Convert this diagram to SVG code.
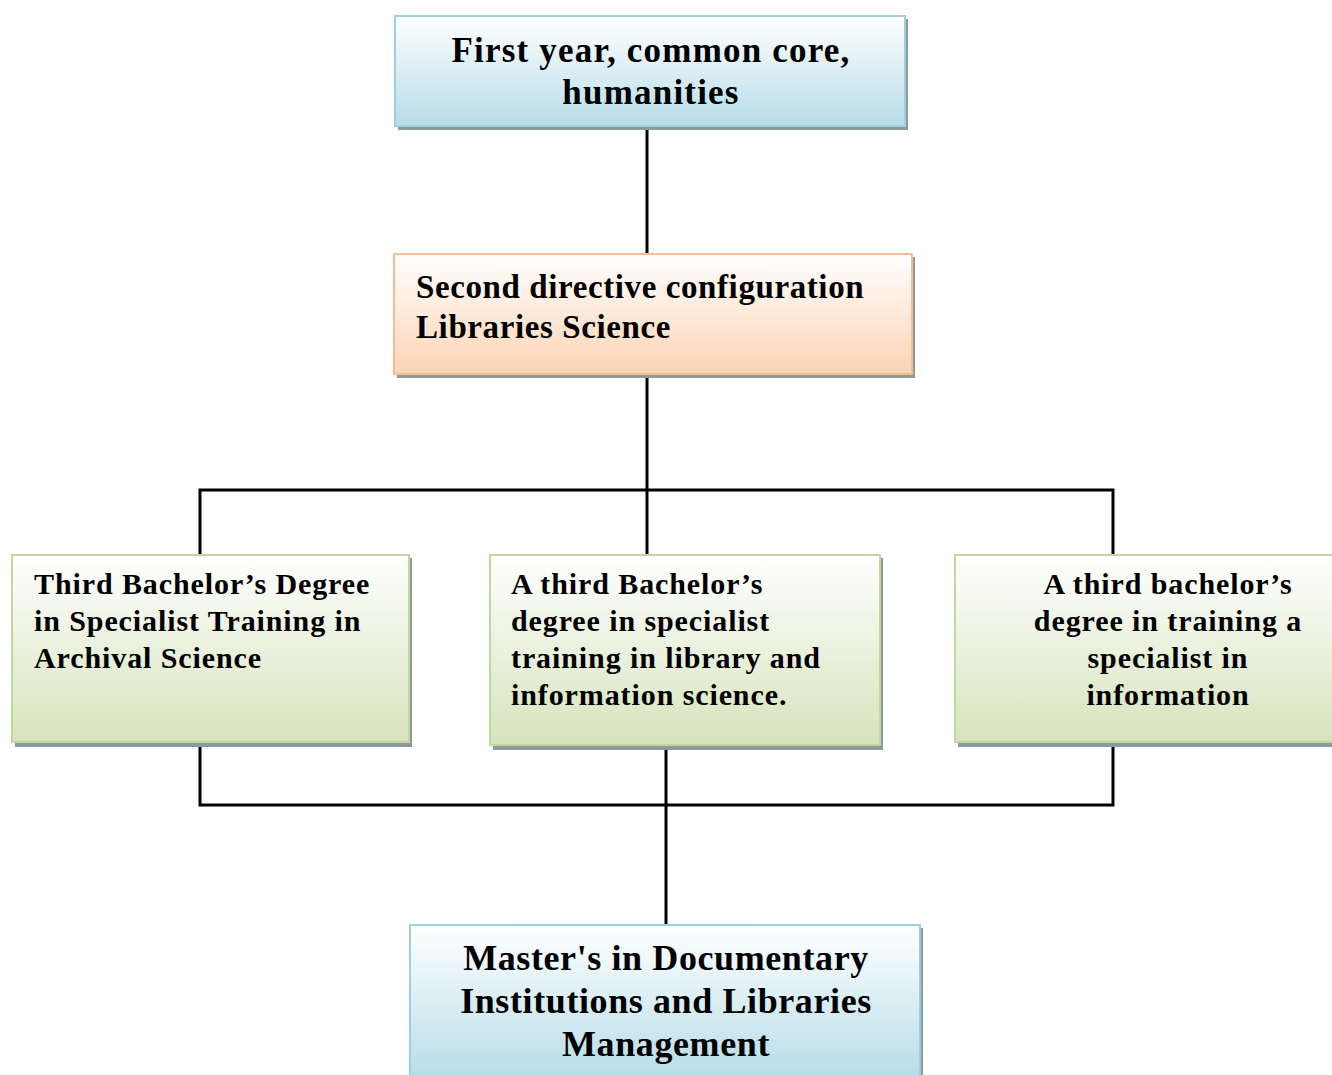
<svg xmlns="http://www.w3.org/2000/svg" width="1332" height="1075" viewBox="0 0 1332 1075">
<defs>
<linearGradient id="gBlue" x1="0" y1="0" x2="0" y2="1"><stop offset="0" stop-color="#ffffff"/><stop offset="1" stop-color="#b7dde8"/></linearGradient>
<linearGradient id="gPeach" x1="0" y1="0" x2="0" y2="1"><stop offset="0" stop-color="#ffffff"/><stop offset="1" stop-color="#fbd4b4"/></linearGradient>
<linearGradient id="gGreen" x1="0" y1="0" x2="0" y2="1"><stop offset="0" stop-color="#ffffff"/><stop offset="1" stop-color="#d6e3bc"/></linearGradient>
</defs>
<style>
.t{font-family:"Liberation Serif","Times New Roman",serif;font-weight:bold;fill:#000}
.sh{fill:#8c9aa0}
.blue{fill:url(#gBlue);stroke:#9ccfe0;stroke-width:2}
.peach{fill:url(#gPeach);stroke:#f6bc92;stroke-width:2}
.green{fill:url(#gGreen);stroke:#c3d69b;stroke-width:2}
.c{stroke:#000;stroke-width:3;fill:none}
</style>
<rect width="1332" height="1075" fill="#ffffff"/>
<g id="connectors">
<line class="c" x1="647" y1="126" x2="647" y2="254"/>
<line class="c" x1="647" y1="374" x2="647" y2="555"/>
<polyline class="c" points="200,555 200,490 1113,490 1113,555"/>
<polyline class="c" points="200,742 200,805 1113,805 1113,742"/>
<line class="c" x1="666" y1="745" x2="666" y2="925"/>
</g>
<g id="n1">
<rect class="sh" x="398" y="19" width="510" height="111"/>
<rect class="blue" x="395" y="16" width="510" height="110"/>
<text class="t" font-size="35" letter-spacing="1.2" text-anchor="middle"><tspan x="651" y="62">First year, common core,</tspan><tspan x="651" y="104">humanities</tspan></text>
</g>
<g id="n2">
<rect class="sh" x="397" y="257" width="518" height="121"/>
<rect class="peach" x="394" y="254" width="518" height="120"/>
<text class="t" font-size="33" letter-spacing="0.6"><tspan x="416" y="298">Second directive configuration</tspan><tspan x="416" y="338">Libraries Science</tspan></text>
</g>
<g id="n3">
<rect class="sh" x="15" y="558" width="397" height="189"/>
<rect class="green" x="12" y="555" width="397" height="187"/>
<text class="t" font-size="30" letter-spacing="0.9"><tspan x="34" y="594">Third Bachelor’s Degree</tspan><tspan x="34" y="631">in Specialist Training in</tspan><tspan x="34" y="668">Archival Science</tspan></text>
</g>
<g id="n4">
<rect class="sh" x="493" y="558" width="390" height="192"/>
<rect class="green" x="490" y="555" width="390" height="190"/>
<text class="t" font-size="30" letter-spacing="0.9"><tspan x="511" y="594">A third Bachelor’s</tspan><tspan x="511" y="631">degree in specialist</tspan><tspan x="511" y="668">training in library and</tspan><tspan x="511" y="705">information science.</tspan></text>
</g>
<g id="n5">
<rect class="sh" x="958" y="558" width="380" height="189"/>
<rect class="green" x="955" y="555" width="380" height="187"/>
<text class="t" font-size="30" letter-spacing="0.9" text-anchor="middle"><tspan x="1168" y="594">A third bachelor’s</tspan><tspan x="1168" y="631">degree in training a</tspan><tspan x="1168" y="668">specialist in</tspan><tspan x="1168" y="705">information</tspan></text>
</g>
<g id="n6">
<rect class="sh" x="413" y="928" width="510" height="150"/>
<rect class="blue" x="410" y="925" width="510" height="152"/>
<text class="t" font-size="36" letter-spacing="0.6" text-anchor="middle"><tspan x="666" y="970">Master's in Documentary</tspan><tspan x="666" y="1013">Institutions and Libraries</tspan><tspan x="666" y="1056">Management</tspan></text>
</g>
</svg>
